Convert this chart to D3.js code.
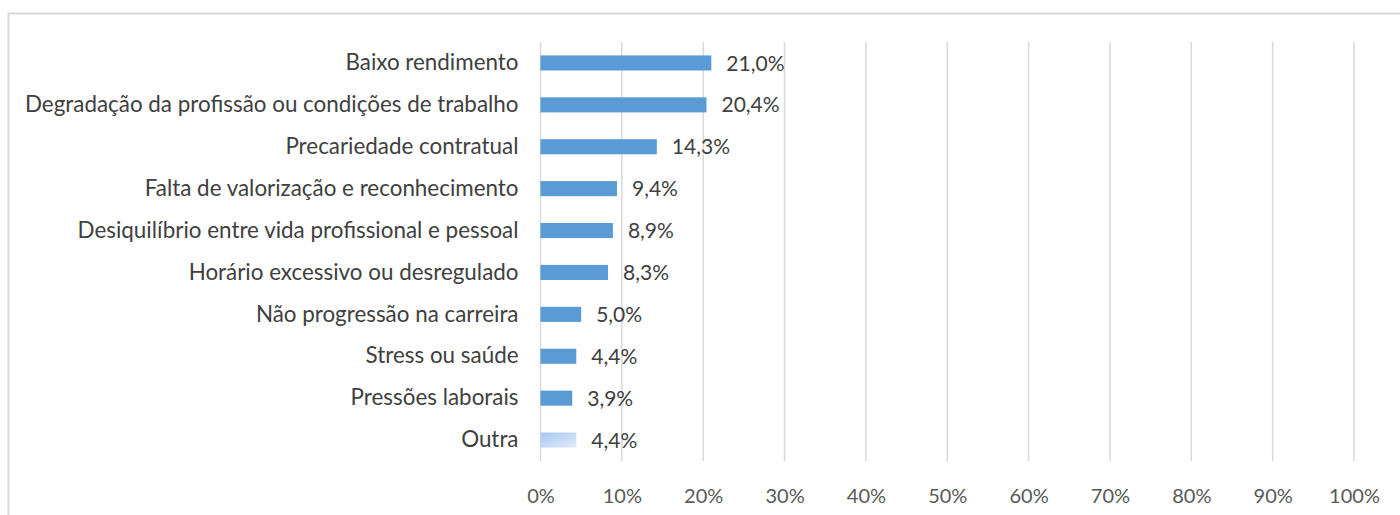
<!DOCTYPE html>
<html>
<head>
<meta charset="utf-8">
<script src="https://cdn.jsdelivr.net/npm/d3@7"></script>
<style>
  html, body { margin: 0; padding: 0; background: #fff; }
  svg { display: block; }
</style>
</head>
<body>
<svg id="chart" width="1400" height="515"></svg>
<script>
// Reasons, from top to bottom, and their shares (%)
const categories = [
  "Baixo rendimento",
  "Degradação da profissão ou condições de trabalho",
  "Precariedade contratual",
  "Falta de valorização e reconhecimento",
  "Desiquilíbrio entre vida profissional e pessoal",
  "Horário excessivo ou desregulado",
  "Não progressão na carreira",
  "Stress ou saúde",
  "Pressões laborais",
  "Outra"
];
const values = [21.0, 20.4, 14.3, 9.4, 8.9, 8.3, 5.0, 4.4, 3.9, 4.4];
const tickValues = [0, 10, 20, 30, 40, 50, 60, 70, 80, 90, 100];

const svg = d3.select("#chart");
const font = "Lato, 'Open Sans', sans-serif";

// Outer frame
svg.append("rect")
  .attr("x", 8.5).attr("y", 13.5)
  .attr("width", 1400).attr("height", 520)
  .attr("fill", "none").attr("stroke", "#d9d9d9").attr("stroke-width", 2);

const defs = svg.append("defs");
const grad = defs.append("linearGradient")
  .attr("id", "lightFill")
  .attr("x1", "0%").attr("y1", "0%").attr("x2", "100%").attr("y2", "100%");
grad.append("stop").attr("offset", "0%").attr("stop-color", "#a4c5f0");
grad.append("stop").attr("offset", "100%").attr("stop-color", "#e3eefa");

const x = d3.scaleLinear().domain([0, 100]).range([540.5, 1354]);
const y = d3.scaleBand().domain(categories).range([42, 461]).paddingInner(0.64).paddingOuter(0.32);

// Vertical gridlines
svg.append("g")
  .selectAll("line")
  .data(tickValues)
  .join("line")
  .attr("x1", d => x(d)).attr("x2", d => x(d))
  .attr("y1", 42).attr("y2", 461)
  .attr("stroke", "#d9d9d9").attr("stroke-width", 1.5);

// Bars
svg.append("g")
  .selectAll("rect")
  .data(values)
  .join("rect")
  .attr("x", x(0))
  .attr("y", (d, i) => y(categories[i]))
  .attr("width", d => x(d) - x(0))
  .attr("height", y.bandwidth())
  .attr("fill", (d, i) => categories[i] === "Outra" ? "url(#lightFill)" : "#5b9bd5");

// Value labels
svg.append("g")
  .selectAll("text")
  .data(values)
  .join("text")
  .attr("x", d => x(d) + 15)
  .attr("y", (d, i) => y(categories[i]) + y.bandwidth() / 2)
  .attr("dy", "0.36em")
  .attr("font-family", font).attr("font-size", 21)
  .attr("fill", "#404040")
  .text(d => d.toFixed(1).replace(".", ",") + "%");

// Category labels
const yAxis = d3.axisLeft(y).tickSize(0).tickPadding(22);
svg.append("g")
  .attr("transform", `translate(${x(0)},0)`)
  .call(yAxis)
  .call(g => g.select(".domain").remove())
  .call(g => g.selectAll("text")
    .attr("font-family", font).attr("font-size", 22.4).attr("fill", "#404040"));

// Percentage axis
const xAxis = d3.axisBottom(x).tickValues(tickValues).tickSize(0).tickPadding(28)
  .tickFormat(d => d + "%");
svg.append("g")
  .attr("transform", "translate(0,461)")
  .call(xAxis)
  .call(g => g.select(".domain").remove())
  .call(g => g.selectAll("text")
    .attr("font-family", font).attr("font-size", 20).attr("fill", "#595959"));
</script>
</body>
</html>
